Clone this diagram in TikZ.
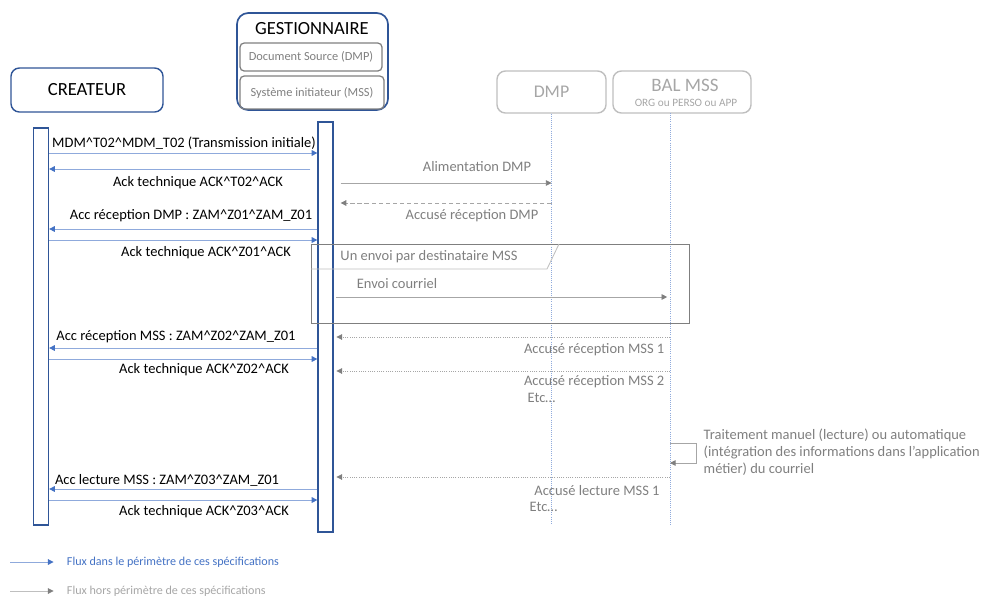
\documentclass[tikz,border=0pt]{standalone}
\usepackage{fontspec}
\setmainfont{Carlito}
\usetikzlibrary{arrows.meta,positioning,calc}
\definecolor{SEQblue}{HTML}{2F5597}
\definecolor{SEQmblue}{HTML}{4472C4}
\definecolor{SEQlblue}{HTML}{8FAADC}
\definecolor{SEQgray}{HTML}{7F7F7F}
\definecolor{SEQlgray}{HTML}{BFBFBF}
\definecolor{SEQtgray}{HTML}{A6A6A6}

\begin{document}
\begin{tikzpicture}[x=0.025cm,y=-0.025cm,
    actor/.style={rectangle,draw=SEQblue,line width=1pt,rounded corners=6pt,
                  minimum width=3.8cm,minimum height=1.1cm,font=\fontsize{13.2}{15}\selectfont},
    gactor/.style={rectangle,draw=SEQlgray,line width=1pt,rounded corners=6pt,
                   minimum height=1.05cm,text=SEQtgray,align=center},
    inbox/.style={rectangle,draw=SEQgray,line width=0.9pt,rounded corners=3pt,
                  text=SEQgray,font=\fontsize{8.8}{10}\selectfont},
    bar/.style={rectangle,draw=SEQblue,line width=0.9pt,fill=white,
                minimum width=0.375cm,inner sep=0pt},
    life/.style={SEQlblue,densely dotted,line width=0.5pt},
    msg/.style={SEQlblue,line width=0.7pt,-{Triangle[width=4pt,length=4pt,color=SEQmblue]}},
    gmsg/.style={SEQtgray,line width=0.6pt,-{Triangle[width=4pt,length=4pt,color=SEQgray]}},
    gdash/.style={gmsg,densely dashed},
    gdot/.style={gmsg,densely dotted},
    lbl/.style={font=\fontsize{10.3}{12}\selectfont,inner sep=1pt},
    glbl/.style={lbl,text=SEQgray},
  ]
  \useasboundingbox (0,0) rectangle (996,601);

  % participants
  \node[actor] (crea) at (87,90) {CREATEUR};
  \node[rectangle,draw=SEQblue,line width=1.2pt,rounded corners=8pt,
        minimum width=3.775cm,minimum height=2.425cm] (gest) at (312.5,61.5) {};
  \node[font=\fontsize{13.2}{15}\selectfont] (gestt) at (312,29) {GESTIONNAIRE};
  \node[inbox,minimum width=3.55cm,minimum height=0.7cm] (gsrc) at (311,57) {Document Source (DMP)};
  \node[inbox,minimum width=3.6cm,minimum height=0.825cm] (gini) at (312,92.5) {Système initiateur (MSS)};
  \node[gactor,minimum width=2.725cm,font=\fontsize{12.7}{14}\selectfont] (dmp) at (551.5,92) {DMP};
  \node[gactor,minimum width=3.45cm] (bal) at (682,92) {};
  \node[text=SEQtgray,font=\fontsize{13.5}{15}\selectfont] (balt) at (685,85) {BAL MSS};
  \node[text=SEQtgray,font=\fontsize{8}{9}\selectfont] (bals) at (686,103) {ORG ou PERSO ou APP};

  % lifelines
  \coordinate (baltop) at (670,113);
  \draw[life] (dmp.south) -- (dmp.south |- 0,525);
  \draw[life] (baltop) -- (baltop |- 0,525);
  \node[bar,minimum height=9.925cm] (cbar) at (41,326.5) {};
  \node[bar,minimum height=10.25cm] (gbar) at (325.5,327) {};

  % boucle
  \draw[SEQgray,line width=0.6pt] (311,244) rectangle (689,323);
  \draw[SEQlgray,line width=0.6pt] (311,269) -- (547,269) -- (559,244);
  \node[glbl] (loopt) at (429,257) {Un envoi par destinataire MSS};

  % flux CREATEUR <-> GESTIONNAIRE
  \draw[msg] (cbar.east |- 0,153) -- (gbar.west |- 0,153);
  \draw[msg,shorten <=5pt] (gbar.west |- 0,169) -- (cbar.east |- 0,169);
  \draw[msg] (gbar.west |- 0,229) -- (cbar.east |- 0,229);
  \draw[msg] (cbar.east |- 0,240) -- (gbar.west |- 0,240);
  \draw[msg] (gbar.west |- 0,348) -- (cbar.east |- 0,348);
  \draw[msg] (cbar.east |- 0,359) -- (gbar.west |- 0,359);
  \draw[msg] (gbar.west |- 0,489) -- (cbar.east |- 0,489);
  \draw[msg] (cbar.east |- 0,500) -- (gbar.west |- 0,500);

  \node[lbl] (m1) at (184,143) {MDM\^{}T02\^{}MDM\_T02 (Transmission initiale)};
  \node[lbl] (m2) at (198,183) {Ack technique ACK\^{}T02\^{}ACK};
  \node[lbl] (m3) at (191,216) {Acc réception DMP : ZAM\^{}Z01\^{}ZAM\_Z01};
  \node[lbl] (m4) at (206,253) {Ack technique ACK\^{}Z01\^{}ACK};
  \node[lbl] (m5) at (176,337) {Acc réception MSS : ZAM\^{}Z02\^{}ZAM\_Z01};
  \node[lbl] (m6) at (204,370) {Ack technique ACK\^{}Z02\^{}ACK};
  \node[lbl] (m7) at (167,480) {Acc lecture MSS : ZAM\^{}Z03\^{}ZAM\_Z01};
  \node[lbl] (m8) at (204,512) {Ack technique ACK\^{}Z03\^{}ACK};

  % flux hors perimetre
  \draw[gmsg,shorten <=5pt] (gbar.east |- 0,183) -- (dmp.south |- 0,183);
  \draw[gdash,shorten >=5pt] (dmp.south |- 0,203) -- (gbar.east |- 0,203);
  \draw[gmsg,shorten <=2pt,shorten >=2pt] (gbar.east |- 0,297) -- (baltop |- 0,297);
  \draw[gdot,shorten >=2pt] (baltop |- 0,337) -- (gbar.east |- 0,337);
  \draw[gdot,shorten >=2pt] (baltop |- 0,371) -- (gbar.east |- 0,371);
  \draw[gdot,shorten >=2pt] (baltop |- 0,477) -- (gbar.east |- 0,477);
  \draw[gmsg] (baltop |- 0,443) -- ++(26,0) |- (baltop |- 0,463);

  \node[glbl] (g1) at (477,167) {Alimentation DMP};
  \node[glbl] (g2) at (472,216) {Accusé réception DMP};
  \node[glbl] (g3) at (397,284) {Envoi courriel};
  \node[glbl,anchor=east] (g4) at (666,350) {Accusé réception MSS 1};
  \node[glbl,anchor=east] (g5) at (666,382) {Accusé réception MSS 2};
  \node[glbl,anchor=west] (g6) at (526,398) {Etc…};
  \node[glbl] (g7) at (597,491) {Accusé lecture MSS 1};
  \node[glbl,anchor=west] (g8) at (528,507) {Etc…};
  \node[glbl,anchor=north west,align=left,font=\fontsize{10.3}{12.2}\selectfont]
        (g9) at (702,427) {Traitement manuel (lecture) ou automatique\\
        (intégration des informations dans l’application\\métier) du courriel};

  % legende
  \node[anchor=west,text=SEQmblue,font=\fontsize{8.6}{10}\selectfont] (lg1) at (62,562)
        {Flux dans le périmètre de ces spécifications};
  \node[anchor=west,text=SEQtgray,font=\fontsize{8.6}{10}\selectfont] (lg2) at (62,591)
        {Flux hors périmètre de ces spécifications};
  \coordinate (lga) at (10,562);
  \coordinate (lgb) at (10,591);
  \draw[msg,shorten >=6pt] (lga) -- (lg1.west);
  \draw[gmsg,SEQlgray,shorten >=6pt] (lgb) -- (lg2.west);
\end{tikzpicture}
\end{document}
